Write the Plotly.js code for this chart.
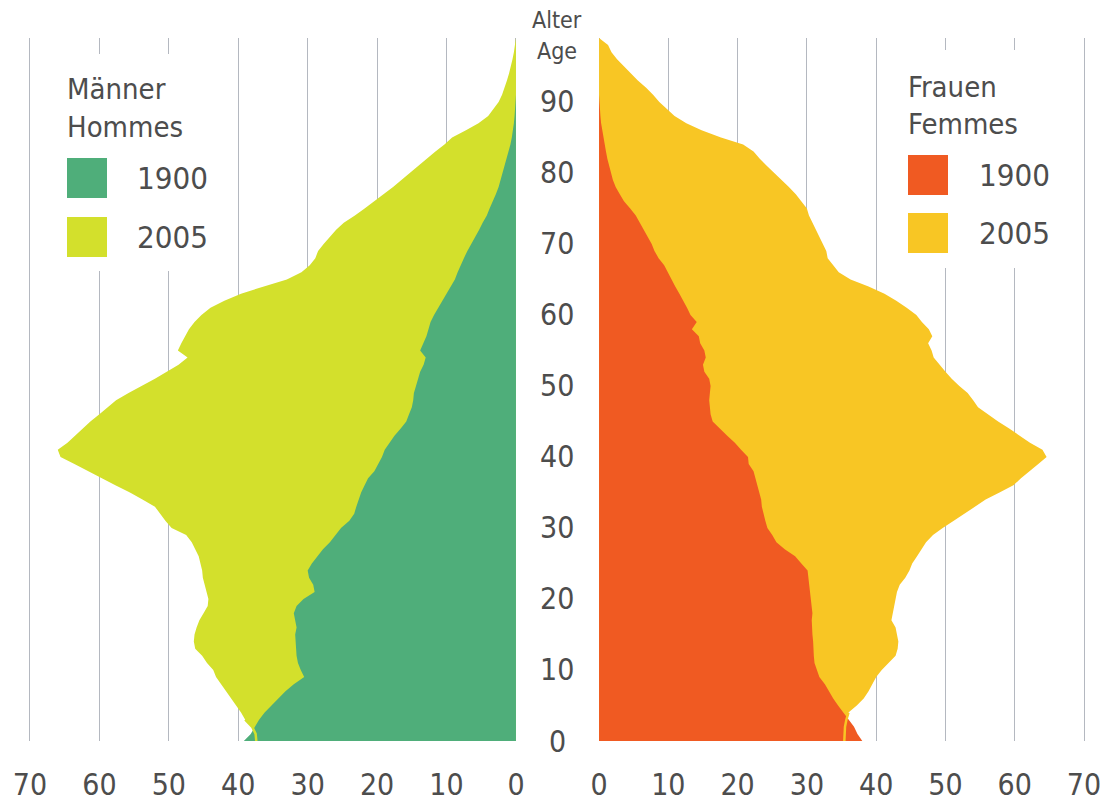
<!DOCTYPE html>
<html>
<head>
<meta charset="utf-8">
<script src="https://cdn.plot.ly/plotly-3.0.1.min.js"></script>
<style>html,body{margin:0;padding:0;background:#fff;}</style>
</head>
<body>
<div id="chart" style="width:1101px;height:802px;"></div>
<script>
// ---- data (thousands of persons, by single year of age) ----
const ages = [0,1,2,3,4,5,6,7,8,9,10,11,12,13,14,15,16,17,18,19,20,21,22,23,24,25,26,27,28,29,30,31,32,33,34,35,36,37,38,39,40,41,42,43,44,45,46,47,48,49,50,51,52,53,54,55,56,57,58,59,60,61,62,63,64,65,66,67,68,69,70,71,72,73,74,75,76,77,78,79,80,81,82,83,84,85,86,87,88,89,90,91,92,93,94,95,96,97,98,99];

const men2005 = [37.4,37.5,38.0,39.0,39.6,40.3,41.0,41.8,42.5,43.2,
 43.6,44.5,45.2,46.2,46.4,46.3,46.0,45.6,45.0,44.4,
 44.3,44.6,44.9,45.1,45.2,45.4,45.7,46.2,46.7,47.5,
 49.6,50.5,51.2,52.0,53.8,55.6,57.7,59.6,61.6,63.6,
 65.6,66.0,64.6,63.5,62.4,61.3,60.0,58.8,57.6,55.8,
 53.8,52.0,50.3,48.6,47.3,48.7,48.2,47.7,47.1,46.3,
 45.3,44.0,42.0,39.6,36.2,33.0,30.9,29.7,28.9,28.5,
 27.7,26.8,25.9,24.8,23.2,21.8,20.4,19.0,17.7,16.5,
 15.3,14.0,12.8,11.6,10.3,9.2,7.2,5.4,4.0,3.3,
 2.5,2.0,1.6,1.3,1.0,0.7,0.5,0.3,0.2,0.0];

const men1900 = [39.2,38.2,37.6,37.0,36.2,35.2,34.2,33.2,32.0,30.5,
 31.0,31.4,31.6,31.7,31.8,31.8,31.6,31.8,32.0,31.6,
 30.6,29.0,29.2,29.8,30.0,29.4,28.6,27.8,26.8,26.0,
 25.2,24.0,23.3,23.0,22.7,22.3,21.8,21.3,20.4,19.8,
 19.3,18.9,18.2,17.5,16.6,15.8,15.4,15.0,14.8,14.7,
 14.4,14.1,13.8,13.3,13.0,13.8,13.3,12.9,12.6,12.3,
 11.8,11.2,10.6,10.0,9.4,8.8,8.4,8.0,7.5,7.0,
 6.4,5.8,5.3,4.8,4.2,3.8,3.3,2.9,2.5,2.2,
 1.9,1.6,1.3,1.0,0.8,0.6,0.4,0.3,0.2,0.1,
 0.1,0,0,0,0,0,0,0,0,0];

const women2005 = [35.4,35.4,35.5,35.7,36.0,37.2,38.2,38.9,39.4,40.0,
 40.8,41.8,42.8,43.1,43.2,43.0,42.8,42.2,42.4,42.6,
 42.7,43.0,43.4,44.2,44.8,45.2,45.9,46.5,47.2,48.2,
 49.6,51.2,52.8,54.2,55.8,57.8,59.8,60.9,62.2,63.4,
 64.6,64.0,62.2,60.6,59.2,57.6,56.2,54.7,54.0,53.2,
 52.0,50.9,50.0,49.1,48.3,48.0,47.5,48.1,47.6,46.6,
 45.8,44.4,42.9,41.2,38.9,36.3,34.6,33.8,33.0,32.8,
 32.3,31.8,31.4,30.8,30.3,30.0,29.2,28.4,27.4,26.3,
 25.2,24.2,23.2,22.3,20.8,17.6,14.8,12.6,10.9,9.8,
 8.7,7.8,6.8,5.6,4.6,3.5,2.6,1.8,1.3,0.0];

const women1900 = [38.0,37.3,36.8,36.0,35.2,34.5,33.8,33.2,32.6,31.8,
 31.4,31.1,31.0,31.0,30.9,30.8,30.7,30.7,30.8,30.7,
 30.6,30.5,30.4,30.3,30.1,29.2,28.3,26.8,25.6,25.0,
 24.3,24.0,23.7,23.5,23.4,23.1,22.9,22.6,22.3,21.6,
 21.5,20.5,19.6,18.5,17.4,16.4,16.1,16.0,15.9,16.0,
 16.1,15.9,15.2,15.0,15.4,15.2,14.6,14.4,13.4,14.1,
 13.2,12.7,12.2,11.6,11.0,10.5,9.9,9.4,8.6,8.0,
 7.6,7.0,6.5,5.9,5.3,4.5,3.6,3.0,2.4,2.0,
 1.7,1.4,1.2,1.0,0.8,0.6,0.4,0.3,0.2,0.1,
 0.1,0,0,0,0,0,0,0,0,0];

const xTickVals = [0,10,20,30,40,50,60,70];
const xTickText = ['0','10','20','30','40','50','60','70'];
const ageTickVals = [0,10,20,30,40,50,60,70,80,90];
const ageTickText = ['0','10','20','30','40','50','60','70','80','90'];
const ageTitle = ['Alter','Age'];
const menTitle = ['Männer','Hommes'];
const womenTitle = ['Frauen','Femmes'];
const years = ['1900','2005'];

// ---- styles ----
const FONT = "'Liberation Sans Narrow', 'DejaVu Sans Condensed', 'Liberation Sans', sans-serif";
const TXT = '#4d4d4d';
const GRID = '#b4b8c0';
const C = {m1900:'#4fae7a', m2005:'#d3e02c', f1900:'#f05a22', f2005:'#f8c624'};

const W = 1101, H = 802, T = 38, B = 61;
const plotH = H - T - B;
const py = p => (H - B - p) / plotH;   // pixel row -> paper y
const px = p => p / W;                  // pixel col -> paper x

function area(x, color, xa) {
  return {type:'scatter', mode:'lines', x:x, y:ages, xaxis:xa, yaxis:'y',
    fill:'tozerox', fillcolor:color, line:{width:0, color:color}, hoverinfo:'skip'};
}
const traces = [
  area(men2005, C.m2005, 'x'),
  area(men1900, C.m1900, 'x'),
  {type:'scatter', mode:'lines', x:men2005.slice(0,4), y:ages.slice(0,4), xaxis:'x', yaxis:'y',
   line:{width:2.5, color:C.m2005}, hoverinfo:'skip'},
  area(women2005, C.f2005, 'x2'),
  area(women1900, C.f1900, 'x2'),
  {type:'scatter', mode:'lines', x:women2005.slice(0,5), y:ages.slice(0,5), xaxis:'x2', yaxis:'y',
   line:{width:2.5, color:C.f2005}, hoverinfo:'skip'}
];

const xBase = {
  tickvals:xTickVals, ticktext:xTickText, showgrid:true, gridcolor:GRID, gridwidth:1,
  zeroline:true, zerolinecolor:GRID, zerolinewidth:1, showline:false,
  ticks:'outside', ticklen:17, tickcolor:'rgba(0,0,0,0)', ticklabeloverflow:'allow',
  tickfont:{family:FONT, size:30, color:TXT}, fixedrange:true, anchor:'y'
};

const annotations = [];
ageTickVals.forEach((v,i) => annotations.push({
  xref:'paper', yref:'y', x:px(557), y:v, text:ageTickText[i], showarrow:false,
  xanchor:'center', yanchor:'middle', font:{family:FONT, size:30, color:TXT}
}));
annotations.push({xref:'paper', yref:'paper', x:px(557), y:py(20), text:ageTitle[0], showarrow:false,
  xanchor:'center', yanchor:'middle', font:{family:FONT, size:23, color:TXT}});
annotations.push({xref:'paper', yref:'paper', x:px(557), y:py(51), text:ageTitle[1], showarrow:false,
  xanchor:'center', yanchor:'middle', font:{family:FONT, size:23, color:TXT}});

function legendBlock(titles, left, titleY, swatchTops, textX, c1900, c2005, shapes) {
  titles.forEach((t,i) => annotations.push({xref:'paper', yref:'paper', x:px(left), y:py(titleY[i]),
    text:t, showarrow:false, xanchor:'left', yanchor:'middle', font:{family:FONT, size:29, color:TXT}}));
  [c1900, c2005].forEach((c,i) => {
    shapes.push({type:'rect', xref:'paper', yref:'paper', x0:px(left+2), x1:px(left+42),
      y0:py(swatchTops[i]+40), y1:py(swatchTops[i]), fillcolor:c, line:{width:0}, layer:'above'});
    annotations.push({xref:'paper', yref:'paper', x:px(textX), y:py(swatchTops[i]+20),
      text:years[i], showarrow:false, xanchor:'left', yanchor:'middle', font:{family:FONT, size:31, color:TXT}});
  });
}

const shapes = [
  {type:'rect', xref:'paper', yref:'paper', x0:px(55), x1:px(215), y0:py(271), y1:py(54), fillcolor:'#fff', line:{width:0}, layer:'above'},
  {type:'rect', xref:'paper', yref:'paper', x0:px(895), x1:px(1060), y0:py(268), y1:py(50), fillcolor:'#fff', line:{width:0}, layer:'above'}
];
legendBlock(menTitle, 65, [89,127], [158,217], 135, C.m1900, C.m2005, shapes);
legendBlock(womenTitle, 906, [87,124], [155,213], 977, C.f1900, C.f2005, shapes);

const layout = {
  width:W, height:H, margin:{l:0, r:0, t:T, b:B},
  paper_bgcolor:'#ffffff', plot_bgcolor:'rgba(0,0,0,0)', showlegend:false,
  xaxis:Object.assign({}, xBase, {domain:[px(27.2), px(517)], range:[70.4, -0.15]}),
  xaxis2:Object.assign({}, xBase, {domain:[px(598), px(1086.8)], range:[-0.15, 70.4]}),
  yaxis:{range:[0, 99], showgrid:false, zeroline:false, showticklabels:false, ticks:'', showline:false, fixedrange:true},
  annotations:annotations, shapes:shapes
};

Plotly.newPlot('chart', traces, layout, {staticPlot:true, displayModeBar:false});
</script>
</body>
</html>
